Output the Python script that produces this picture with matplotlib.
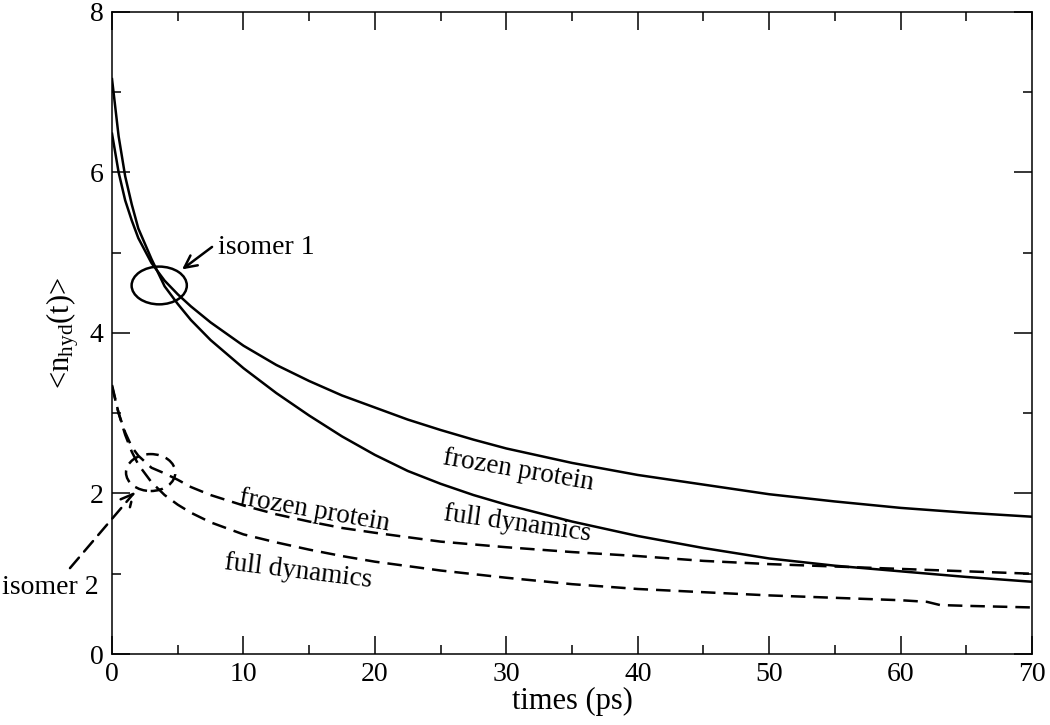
import matplotlib
matplotlib.use("Agg")
import matplotlib.pyplot as plt
from matplotlib.patches import Ellipse

plt.rcParams['font.family'] = ['Liberation Serif', 'DejaVu Serif']
plt.rcParams['mathtext.fontset'] = 'custom'
plt.rcParams['mathtext.rm'] = 'Liberation Serif'
plt.rcParams['mathtext.it'] = 'Liberation Serif:italic'

# ---- data ----
t_solid = [0, 0.5, 1, 1.5, 2, 3, 4, 5, 6, 7.5, 10, 12.5, 15, 17.5, 20, 22.5,
           25, 27.5, 30, 35, 40, 45, 50, 55, 60, 65, 70]
frozen_solid = [6.48, 6.0, 5.65, 5.4, 5.18, 4.87, 4.65, 4.48, 4.33, 4.13, 3.84,
                3.6, 3.40, 3.22, 3.07, 2.92, 2.79, 2.67, 2.56, 2.38, 2.23,
                2.11, 1.99, 1.90, 1.82, 1.76, 1.71]
full_solid = [7.16, 6.45, 5.95, 5.6, 5.3, 4.92, 4.58, 4.36, 4.16, 3.91, 3.56,
              3.25, 2.97, 2.71, 2.48, 2.28, 2.12, 1.98, 1.86, 1.65, 1.47,
              1.32, 1.19, 1.10, 1.03, 0.96, 0.90]

t_dash_frozen = [0, 0.5, 1, 1.5, 2, 3, 4, 5, 6, 7.5, 10, 12.5, 15, 17.5, 20,
                 25, 30, 35, 40, 45, 50, 55, 60, 65, 70]
frozen_dash = [3.33, 3.0, 2.76, 2.58, 2.47, 2.32, 2.25, 2.17, 2.08, 1.98, 1.85,
               1.74, 1.65, 1.57, 1.51, 1.40, 1.33, 1.27, 1.22, 1.16, 1.12,
               1.09, 1.06, 1.03, 1.00]

t_dash_full = [0, 0.5, 1, 1.5, 2, 3, 4, 5, 6, 7.5, 10, 12.5, 15, 17.5, 20, 25,
               30, 35, 40, 45, 50, 55, 60, 62, 63, 65, 70]
full_dash = [3.35, 3.0, 2.73, 2.52, 2.36, 2.14, 1.98, 1.86, 1.76, 1.64, 1.49,
             1.39, 1.30, 1.22, 1.15, 1.04, 0.95, 0.87, 0.81, 0.77, 0.73, 0.70,
             0.67, 0.65, 0.61, 0.60, 0.58]

x_ticks = [0, 10, 20, 30, 40, 50, 60, 70]
y_ticks = [0, 2, 4, 6, 8]

fig = plt.figure(figsize=(10.5, 7.25), dpi=100)
ax = fig.add_axes([0.1067, 0.0979, 0.8762, 0.8860])

lw = 1.8
ax.plot(t_solid, frozen_solid, color='black', lw=lw)
ax.plot(t_solid, full_solid, color='black', lw=lw)
ax.plot(t_dash_frozen, frozen_dash, color='black', lw=lw, dashes=(5.8, 3.2))
ax.plot(t_dash_full, full_dash, color='black', lw=lw, dashes=(5.8, 3.2))

ax.set_xlim(0, 70)
ax.set_ylim(0, 8)
ax.set_xticks(x_ticks)
ax.set_yticks(y_ticks)
ax.set_xticks([5, 15, 25, 35, 45, 55, 65], minor=True)
ax.set_yticks([1, 3, 5, 7], minor=True)
ax.tick_params(which='both', direction='in', top=True, right=True,
               labelsize=20, width=1.1)
ax.tick_params(which='major', length=13, pad=6)
ax.tick_params(which='minor', length=6.5)
for s in ax.spines.values():
    s.set_linewidth(1.1)

ax.set_xlabel('times (ps)', fontsize=22, labelpad=0)
ax.set_ylabel(r'<n$_{\mathrm{hyd}}$(t)>', fontsize=22, labelpad=6)

# ellipses
ax.add_patch(Ellipse((3.59, 4.59), 4.2, 0.47, fill=False, lw=lw, color='black'))
ax.add_patch(Ellipse((2.94, 2.26), 3.75, 0.46, fill=False, lw=lw,
                     color='black', linestyle=(0, (5, 3))))

# isomer annotations
ax.annotate('', xy=(5.33, 4.79), xytext=(7.61, 5.07),
            arrowprops=dict(arrowstyle='->', lw=lw, color='black',
                            shrinkA=0, shrinkB=0, mutation_scale=22))
ax.text(8.1, 5.06, 'isomer 1', fontsize=20, ha='left', va='center')

ax.annotate('', xy=(1.75, 2.02), xytext=(-3.2, 1.07), annotation_clip=False,
            arrowprops=dict(arrowstyle='->', lw=lw, color='black',
                            linestyle=(0, (5.5, 3.2)),
                            shrinkA=0, shrinkB=0, mutation_scale=22))
ax.text(-8.35, 0.83, 'isomer 2', fontsize=20, ha='left', va='center',
        clip_on=False)

# curve labels
ax.text(30.9, 2.29, 'frozen protein', fontsize=19.5, rotation=-9.7,
        rotation_mode='anchor', ha='center', va='center')
ax.text(30.8, 1.62, 'full dynamics', fontsize=19.5, rotation=-8,
        rotation_mode='anchor', ha='center', va='center')
ax.text(15.4, 1.78, 'frozen protein', fontsize=19.5, rotation=-10,
        rotation_mode='anchor', ha='center', va='center')
ax.text(14.2, 1.03, 'full dynamics', fontsize=19.5, rotation=-7,
        rotation_mode='anchor', ha='center', va='center')

fig.savefig('out.png', dpi=100)
